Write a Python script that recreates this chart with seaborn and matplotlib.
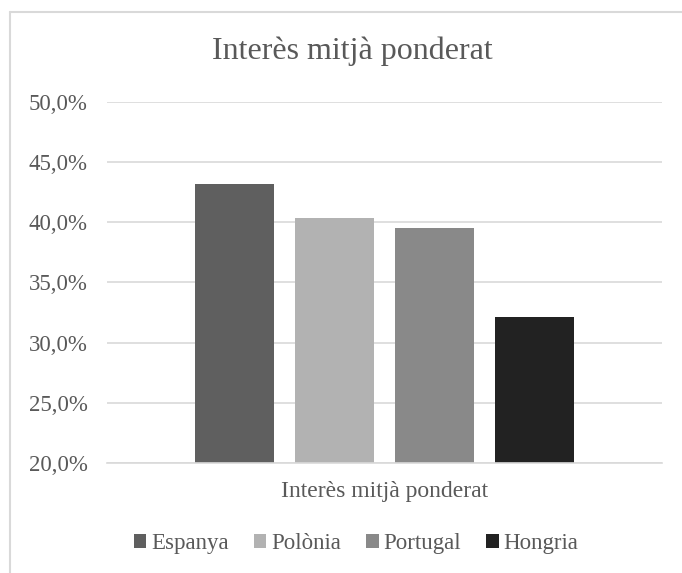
import matplotlib
matplotlib.use("Agg")
import matplotlib.pyplot as plt
import matplotlib.ticker as mticker
from matplotlib.lines import Line2D
from matplotlib.patches import Patch
import pandas as pd
import seaborn as sns

# dades del grafic
categoria = ["Interès mitjà ponderat"]
paisos = ["Espanya", "Polònia", "Portugal", "Hongria"]
valors = [0.432, 0.404, 0.395, 0.321]
colors = ["#5f5f5f", "#b2b2b2", "#898989", "#222222"]
ticks_y = [0.20, 0.25, 0.30, 0.35, 0.40, 0.45, 0.50]

df = pd.DataFrame({"cat": categoria * len(paisos), "pais": paisos, "valor": valors})

sns.set_style("white")
plt.rcParams["font.family"] = ["Liberation Serif", "DejaVu Serif"]
text_col = "#595959"
grid_col = "#d9d9d9"

fig = plt.figure(figsize=(6.82, 5.73), dpi=100)
ax = fig.add_axes([0.157, 0.192, 0.814, 0.630])

sns.barplot(data=df, x="cat", y="valor", hue="pais", palette=colors,
            width=0.72, gap=0.21, saturation=1, legend=False,
            edgecolor="none", linewidth=0, ax=ax)

ax.set_ylim(0.2, 0.5)
ax.set_yticks(ticks_y)
ax.yaxis.set_major_formatter(mticker.FuncFormatter(
    lambda v, p: f"{v*100:.1f}%".replace(".", ",")))
ax.yaxis.grid(True, color=grid_col, linewidth=1.2)
ax.set_axisbelow(True)
for s in ["top", "right", "left"]:
    ax.spines[s].set_visible(False)
ax.spines["bottom"].set_color(grid_col)
ax.spines["bottom"].set_linewidth(1.2)
ax.tick_params(axis="both", length=0, labelcolor=text_col)
ax.tick_params(axis="y", pad=14, labelsize=16.5)
ax.tick_params(axis="x", pad=13, labelsize=17)
ax.set_xlabel("")
ax.set_ylabel("")

fig.text(0.516, 0.91, "Interès mitjà ponderat", ha="center", va="center",
         fontsize=23, color=text_col)

handles = [Patch(facecolor=c, edgecolor="none") for c in colors]
fig.legend(handles, paisos, loc="center", bbox_to_anchor=(0.522, 0.052), ncol=4,
           frameon=False, fontsize=16.5, labelcolor=text_col,
           handlelength=0.55, handleheight=0.55, handletextpad=0.2, columnspacing=1.1)

# vora del grafic
fig.add_artist(Line2D([10 / 682, 10 / 682], [0, 1 - 12 / 573], color=grid_col, linewidth=1.5))
fig.add_artist(Line2D([10 / 682, 1], [1 - 12 / 573, 1 - 12 / 573], color=grid_col, linewidth=1.5))

fig.savefig("out.png", dpi=100)
